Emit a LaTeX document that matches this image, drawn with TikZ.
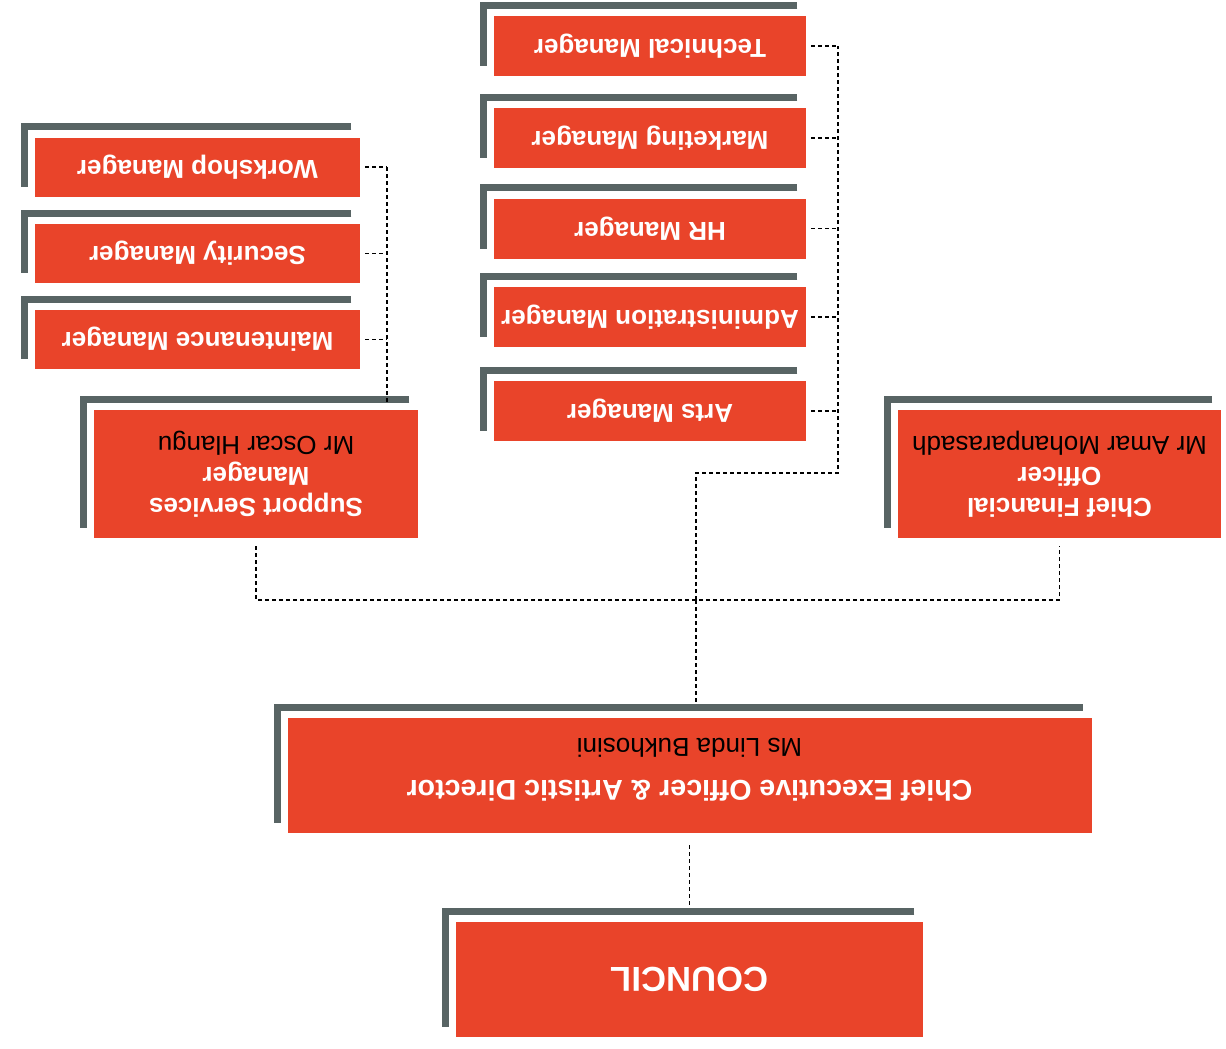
\documentclass[tikz,border=0pt]{standalone}
\usepackage{fontspec}
\setmainfont{Liberation Sans}
\usepackage{graphicx}
\usetikzlibrary{calc}
\newdimen\pxu \pxu=0.5pt
\definecolor{boxred}{RGB}{233,68,42}
\definecolor{shade}{RGB}{88,100,100}
\tikzset{
  redbox/.style={fill=boxred, draw=none, inner sep=0pt, text=white},
  shadeL/.style={draw=shade, line width=7\pxu, line join=miter, line cap=butt},
  dl/.style={draw=black, line width=1.6\pxu, dash pattern=on 4\pxu off 3\pxu},
  smallbox/.style={redbox, minimum width=325\pxu, minimum height=59\pxu},
  midbox/.style={redbox, minimum width=312\pxu, minimum height=60\pxu},
  bigbox/.style={redbox, minimum width=324\pxu, minimum height=128\pxu},
}
\newcommand\onelbl[1]{\rotatebox{180}{\fontsize{13}{15.5}\selectfont\bfseries #1}}
\newcommand\threelbl[3]{\rotatebox{180}{\fontsize{13}{15.5}\selectfont\begin{tabular}{@{}c@{}}\bfseries #1\\ \bfseries #2\\ \color{black}#3\end{tabular}}}
\newcommand\shL[1]{\path[shadeL] ($(#1.north east)+(-9,-10.5)$) -- ($(#1.north west)+(-10,-10.5)$) -- ($(#1.south west)+(-10,-10)$);}
\begin{document}
\begin{tikzpicture}[x=0.5pt,y=-0.5pt]
\useasboundingbox (0,0) rectangle (1226,1049);
% main boxes
\node[redbox, minimum width=467\pxu, minimum height=115\pxu] (cn) at (689.5,979.5)
  {\rotatebox{180}{\fontsize{17.3}{20}\selectfont\bfseries COUNCIL}};
\node[redbox, minimum width=804\pxu, minimum height=115\pxu] (ceo) at (689.5,775.5)
  {\rotatebox{180}{\fontsize{13}{16}\selectfont\begin{tabular}{@{}c@{}}\rule{0pt}{21.2pt}\fontsize{14.3}{17}\selectfont\bfseries Chief Executive Officer \& Artistic Director\\[5pt] \color{black}Ms Linda Bukhosini\end{tabular}}};
\node[bigbox] (ss) at (256,474) {\threelbl{Support Services}{Manager}{Mr Oscar Hlangu}};
\node[bigbox, minimum width=323\pxu] (cfo) at (1059.5,474) {\threelbl{Chief Financial}{Officer}{Mr Amar Mohanparasadh}};
% left column
\node[smallbox] (ws) at (197.5,167) {\onelbl{Workshop Manager}};
\node[smallbox] (sc) at (197.5,253.5) {\onelbl{Security Manager}};
\node[smallbox] (mt) at (197.5,339.5) {\onelbl{Maintenance Manager}};
% middle column
\node[midbox] (tm) at (650,46) {\onelbl{Technical Manager}};
\node[midbox] (mk) at (650,138) {\onelbl{Marketing Manager}};
\node[midbox] (hr) at (650,228.5) {\onelbl{HR Manager}};
\node[midbox] (ad) at (650,317) {\onelbl{Administration Manager}};
\node[midbox] (ar) at (650,411) {\onelbl{Arts Manager}};
% shadows
\foreach \n in {cn,ceo,ss,cfo,ws,sc,mt,tm,mk,hr,ad,ar} {\shL{\n}}
% connectors
\coordinate (hub) at (696,600);
\coordinate (mj) at (838,473);
\coordinate (lj) at (387,167);
\draw[dl] ($(ceo.south)+(0,12)$) -- ($(cn.north)+(0,-14)$);
\draw[dl] (hub) -- ($(hub |- ceo.north)+(0,-14)$);
\draw[dl] ($(ss.south)+(0,8)$) |- (hub) -| ($(cfo.south)+(0,8)$);
\draw[dl] (hub) |- (mj) -- (mj |- tm.east);
\foreach \n in {tm,mk,hr,ad,ar} {\draw[dl] ($(\n.east)+(5,0)$) -- (\n.east -| mj);}
\draw[dl] (lj |- ws.east) -- ($(lj |- ss.north)+(0,-8)$);
\foreach \n in {ws,sc,mt} {\draw[dl] ($(\n.east)+(5,0)$) -- (\n.east -| lj);}
\end{tikzpicture}
\end{document}
